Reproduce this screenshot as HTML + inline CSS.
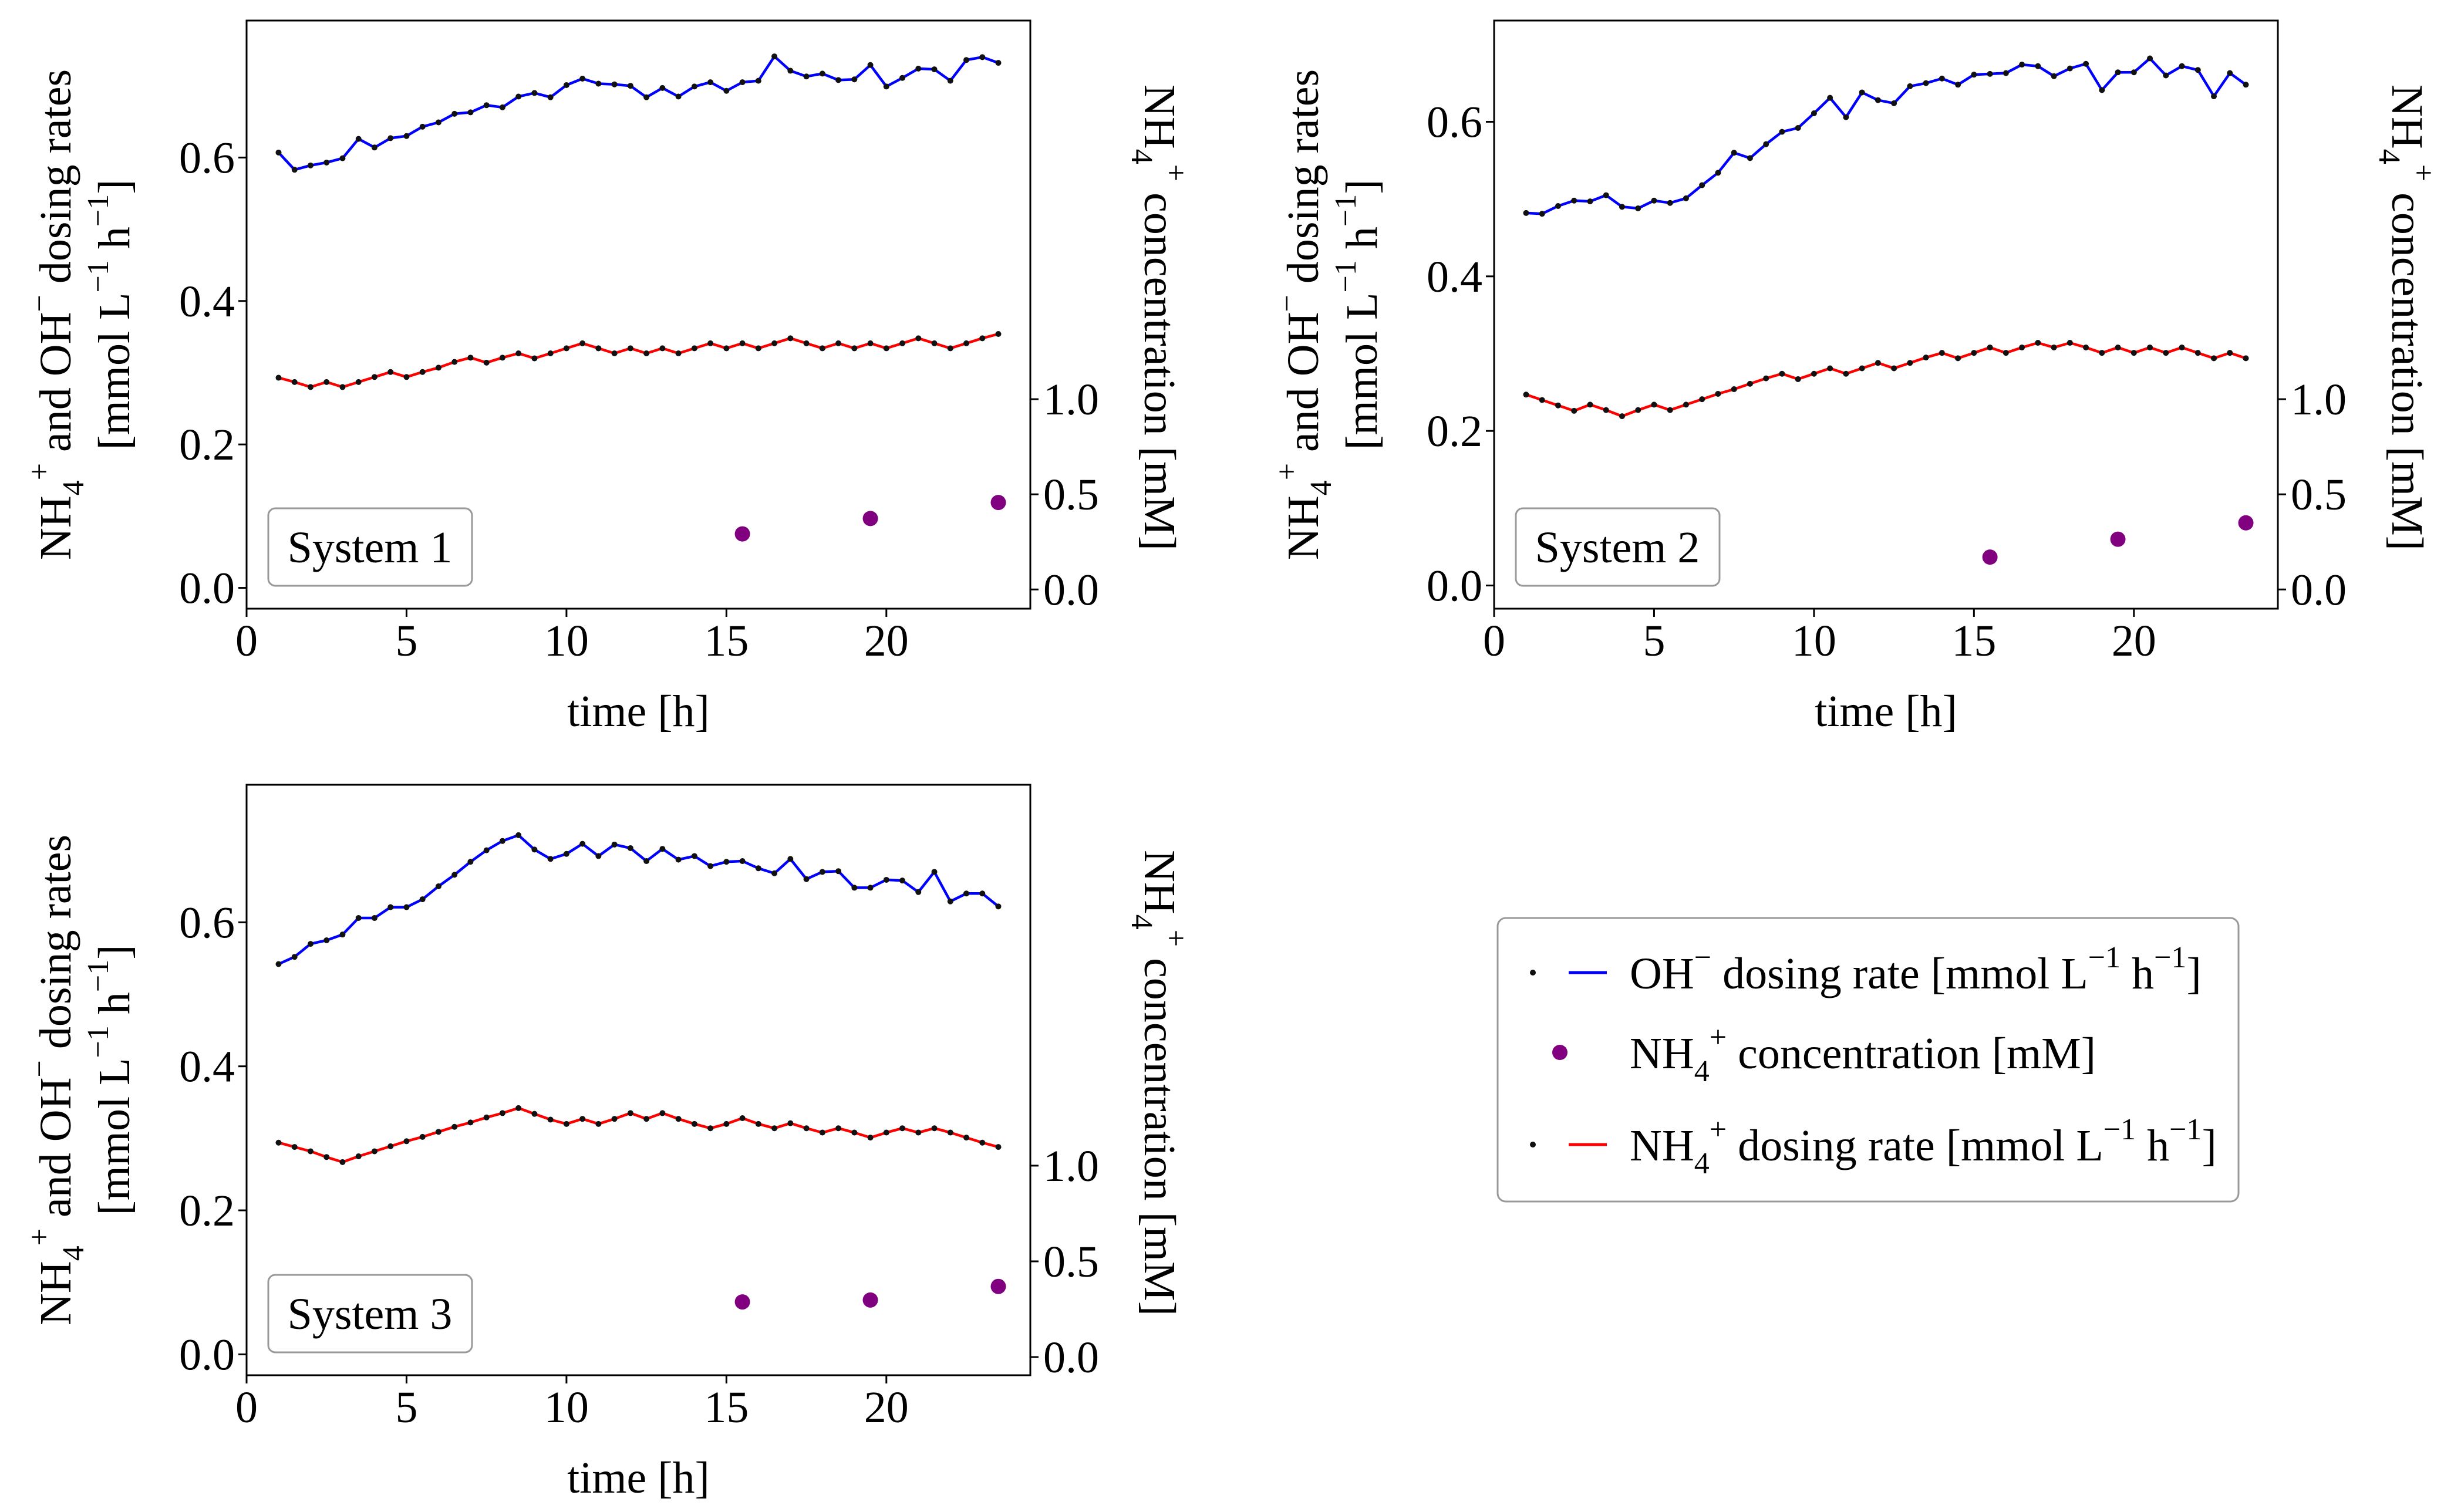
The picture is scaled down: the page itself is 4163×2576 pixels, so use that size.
<!DOCTYPE html>
<html><head><meta charset="utf-8">
<style>
html,body{margin:0;padding:0;background:#fff;}
svg{display:block;font-family:"Liberation Serif","DejaVu Serif",serif;}
svg text{font-family:"Liberation Serif","DejaVu Serif",serif;}
</style></head>
<body>
<svg id="fig" width="4163" height="2576" viewBox="0 0 4163 2576" xmlns="http://www.w3.org/2000/svg" font-family="Liberation Serif, serif"></svg>
<script>
const times = [1,1.5,2,2.5,3,3.5,4,4.5,5,5.5,6,6.5,7,7.5,8,8.5,9,9.5,10,10.5,11,11.5,12,12.5,13,13.5,14,14.5,15,15.5,16,16.5,17,17.5,18,18.5,19,19.5,20,20.5,21,21.5,22,22.5,23,23.5];
const concTimes = [15.5,19.5,23.5];
const xTicks = [0,5,10,15,20];
const leftTicks = [0.0,0.2,0.4,0.6];
const rightTicks = [0.0,0.5,1.0];

const oh1 = [0.607,0.583,0.589,0.593,0.599,0.626,0.614,0.627,0.630,0.643,0.649,0.661,0.663,0.673,0.670,0.685,0.690,0.684,0.701,0.710,0.703,0.702,0.700,0.684,0.697,0.685,0.699,0.705,0.693,0.705,0.707,0.741,0.721,0.713,0.717,0.708,0.709,0.729,0.699,0.711,0.724,0.723,0.707,0.736,0.740,0.732];
const nh1 = [0.293,0.287,0.280,0.287,0.280,0.287,0.294,0.301,0.294,0.301,0.307,0.315,0.321,0.314,0.321,0.327,0.320,0.327,0.334,0.341,0.334,0.327,0.334,0.327,0.334,0.327,0.334,0.341,0.334,0.341,0.334,0.341,0.348,0.341,0.334,0.341,0.334,0.341,0.334,0.341,0.348,0.341,0.334,0.341,0.348,0.354];
const conc1 = [0.292,0.373,0.457];

const oh2 = [0.482,0.481,0.491,0.498,0.497,0.505,0.490,0.488,0.498,0.495,0.501,0.518,0.534,0.560,0.553,0.571,0.587,0.592,0.611,0.631,0.606,0.638,0.628,0.624,0.646,0.650,0.656,0.648,0.661,0.662,0.663,0.674,0.672,0.659,0.669,0.675,0.641,0.664,0.664,0.682,0.660,0.672,0.667,0.633,0.663,0.648];
const nh2 = [0.247,0.240,0.233,0.226,0.234,0.227,0.219,0.227,0.234,0.227,0.234,0.241,0.248,0.254,0.261,0.268,0.274,0.267,0.274,0.281,0.274,0.281,0.288,0.281,0.288,0.295,0.301,0.294,0.301,0.308,0.301,0.308,0.314,0.308,0.314,0.308,0.301,0.308,0.301,0.308,0.301,0.308,0.301,0.294,0.301,0.294];
const conc2 = [0.170,0.264,0.350];

const oh3 = [0.542,0.552,0.570,0.575,0.583,0.606,0.606,0.621,0.621,0.632,0.650,0.666,0.684,0.700,0.713,0.721,0.701,0.688,0.695,0.709,0.692,0.708,0.703,0.685,0.702,0.687,0.692,0.678,0.684,0.685,0.675,0.668,0.688,0.660,0.670,0.671,0.648,0.648,0.659,0.658,0.642,0.670,0.629,0.640,0.640,0.622];
const nh3 = [0.294,0.288,0.282,0.274,0.267,0.275,0.282,0.289,0.296,0.302,0.309,0.316,0.322,0.329,0.335,0.342,0.334,0.326,0.320,0.327,0.320,0.327,0.335,0.327,0.335,0.327,0.320,0.314,0.320,0.328,0.320,0.314,0.321,0.314,0.308,0.314,0.308,0.301,0.308,0.314,0.308,0.314,0.308,0.301,0.294,0.288];
const conc3 = [0.288,0.298,0.369];

const NS = "http://www.w3.org/2000/svg";
const FONT = '"Liberation Serif", "DejaVu Serif", serif';
const svg = document.getElementById('fig');
function mk(tag, attrs, parent){
  const e = document.createElementNS(NS, tag);
  for (const k in attrs) e.setAttribute(k, attrs[k]);
  if (tag === 'text') e.setAttribute('font-family', FONT);
  (parent||svg).appendChild(e);
  return e;
}
function sup(t, txt, dy, size){
  const s = document.createElementNS(NS,'tspan');
  s.setAttribute('dy', dy); s.setAttribute('font-size', size); s.textContent = txt; t.appendChild(s); return s;
}
function span(t, txt, dy){
  const s = document.createElementNS(NS,'tspan');
  if (dy) s.setAttribute('dy', dy); s.textContent = txt; t.appendChild(s); return s;
}

function panel(p){
  const g = mk('g', {});
  
  
  const X = v => p.L + (v - p.xmin) / (p.xmax - p.xmin) * (p.R - p.L);
  const Y = v => p.B - (v - p.ymin) / (p.ymax - p.ymin) * (p.B - p.T);
  const Y2 = v => p.B - (v - p.y2min) / (p.y2max - p.y2min) * (p.B - p.T);

  const fr = mk('rect', {x:p.L, y:p.T, width:p.R-p.L, height:p.B-p.T, fill:'none', stroke:'#000', 'stroke-width':3}, g);
  
  

  xTicks.forEach(v => {
    const x = X(v);
    mk('line', {x1:x, x2:x, y1:p.B, y2:p.B+14, stroke:'#000', 'stroke-width':3}, g);
    const t = mk('text', {x:x, y:p.B+80, 'font-size':76, 'text-anchor':'middle'}, g);
    t.textContent = String(v);
    
    
  });
  leftTicks.forEach(v => {
    const y = Y(v);
    mk('line', {x1:p.L-14, x2:p.L, y1:y, y2:y, stroke:'#000', 'stroke-width':3}, g);
    const t = mk('text', {x:p.L-20, y:y+26, 'font-size':76, 'text-anchor':'end'}, g);
    t.textContent = v.toFixed(1);
    
    
  });
  rightTicks.forEach(v => {
    const y = Y2(v);
    mk('line', {x1:p.R, x2:p.R+14, y1:y, y2:y, stroke:'#000', 'stroke-width':3}, g);
    const t = mk('text', {x:p.R+22, y:y+26, 'font-size':76, 'text-anchor':'start'}, g);
    t.textContent = v.toFixed(1);
    
    
  });

  const xl = mk('text', {x:(p.L+p.R)/2, y:p.B+200, 'font-size':76, 'text-anchor':'middle'}, g);
  xl.textContent = 'time [h]';
  
  

  const cy = (p.T+p.B)/2;
  const l1 = mk('text', {x:0, y:0, 'font-size':76, 'text-anchor':'middle', transform:`translate(${p.L-300},${cy}) rotate(-90)`}, g);
  span(l1,'NH'); sup(l1,'4',22,52); sup(l1,'+',-58,52); span(l1,' and OH',36); sup(l1,'\u2212',-36,52); span(l1,' dosing rates',36);
  
  
  const l2 = mk('text', {x:0, y:0, 'font-size':76, 'text-anchor':'middle', transform:`translate(${p.L-200},${cy}) rotate(-90)`}, g);
  span(l2,'[mmol L'); sup(l2,'\u22121',-36,52); span(l2,' h',36); sup(l2,'\u22121',-36,52); span(l2,']',36);
  
  

  const rl = mk('text', {x:0, y:0, 'font-size':76, 'text-anchor':'middle', transform:`translate(${p.R+195},${cy+5}) rotate(90)`}, g);
  span(rl,'NH'); sup(rl,'4',22,52); sup(rl,'+',-58,52); span(rl,' concentration [mM]',36);
  
  

  function series(vals, color, name){
    const pts = times.map((t,i) => X(t).toFixed(1)+','+Y(vals[i]).toFixed(1)).join(' ');
    const pl = mk('polyline', {points:pts, fill:'none', stroke:color, 'stroke-width':4.5, 'stroke-linejoin':'round'}, g);
    
    
    times.forEach((t,i) => {
      const c = mk('circle', {cx:X(t), cy:Y(vals[i]), r:5, fill:'#111'}, g);
      
      
    });
  }
  series(p.oh, '#0000ff', 'oh-dosing-rate');
  series(p.nh, '#ff0000', 'nh4-dosing-rate');
  concTimes.forEach((t,i) => {
    const c = mk('circle', {cx:X(t), cy:Y2(p.conc[i]), r:13, fill:'#800080'}, g);
    
    
  });

  const bx = mk('rect', {x:p.L+37, y:p.B-171, width:347, height:132, rx:12, fill:'#fff', stroke:'#999', 'stroke-width':3}, g);
  
  
  const bt = mk('text', {x:p.L+37+173, y:p.B-171+92, 'font-size':76, 'text-anchor':'middle'}, g);
  bt.textContent = 'System ' + p.n;
  
  
}

panel({n:1, L:420, R:1755, T:35, B:1037, xmin:0, xmax:24.5, ymin:-0.029, ymax:0.791, y2min:-0.101, y2max:2.99, oh:oh1, nh:nh1, conc:conc1});
panel({n:2, L:2545, R:3880, T:35, B:1037, xmin:0, xmax:24.5, ymin:-0.030, ymax:0.731, y2min:-0.101, y2max:2.99, oh:oh2, nh:nh2, conc:conc2});
panel({n:3, L:420, R:1755, T:1337, B:2343, xmin:0, xmax:24.5, ymin:-0.029, ymax:0.791, y2min:-0.095, y2max:2.99, oh:oh3, nh:nh3, conc:conc3});

const lg = mk('g', {});


const lb = mk('rect', {x:2551, y:1564, width:1262, height:483, rx:14, fill:'#fff', stroke:'#999', 'stroke-width':3}, lg);


function legRow(y, kind, color, name, build){
  const e = mk('g', {}, lg);
  
  
  if (kind === 'line'){
    mk('circle', {cx:2611, cy:y, r:5, fill:'#111'}, e);
    mk('line', {x1:2672, x2:2737, y1:y, y2:y, stroke:color, 'stroke-width':5}, e);
  } else {
    mk('circle', {cx:2657, cy:y, r:13, fill:color}, e);
  }
  const t = mk('text', {x:2776, y:y+27, 'font-size':76}, e);
  build(t);
}
legRow(1657, 'line', '#0000ff', 'legend-entry-oh-dosing-rate', t => {
  span(t,'OH'); sup(t,'\u2212',-36,52); span(t,' dosing rate [mmol L',36); sup(t,'\u22121',-36,52); span(t,' h',36); sup(t,'\u22121',-36,52); span(t,']',36);
});
legRow(1793, 'dot', '#800080', 'legend-entry-nh4-concentration', t => {
  span(t,'NH'); sup(t,'4',22,52); sup(t,'+',-58,52); span(t,' concentration [mM]',36);
});
legRow(1950, 'line', '#ff0000', 'legend-entry-nh4-dosing-rate', t => {
  span(t,'NH'); sup(t,'4',22,52); sup(t,'+',-58,52); span(t,' dosing rate [mmol L',36); sup(t,'\u22121',-36,52); span(t,' h',36); sup(t,'\u22121',-36,52); span(t,']',36);
});
</script>
</body></html>
